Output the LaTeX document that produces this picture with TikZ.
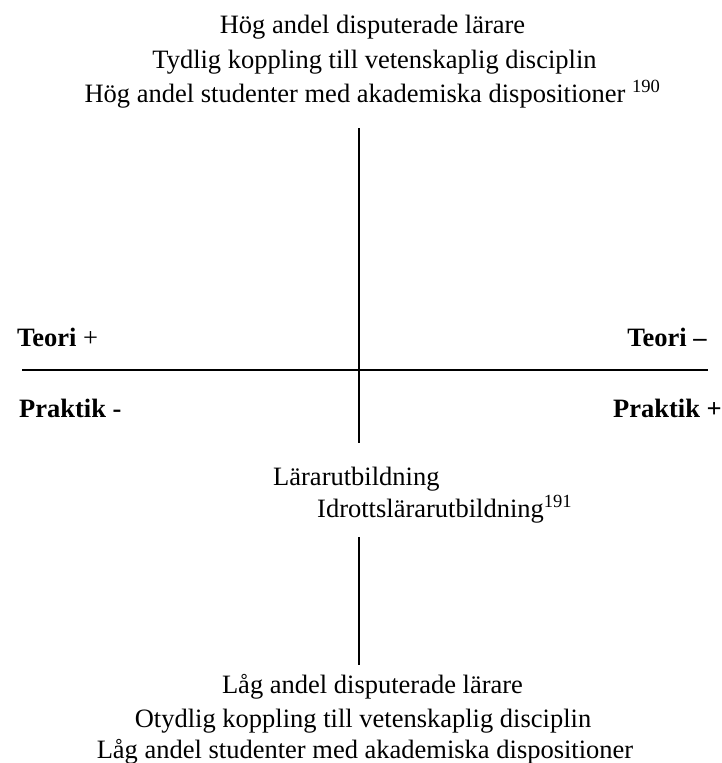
\documentclass[tikz,border=0pt]{standalone}
\usepackage{fontspec}
\setmainfont{Liberation Serif}
\begin{document}
\begin{tikzpicture}[x=1pt,y=-1pt,
  txt/.style={font=\fontsize{26.5}{30}\selectfont, inner sep=0pt, anchor=base},
  lbl/.style={font=\fontsize{26.5}{30}\selectfont, inner sep=0pt},
  axis/.style={line width=1.8pt}]
\useasboundingbox (0,0) rectangle (722,763);
% top texts
\node[txt] (t1) at (372.5,33) {Hög andel disputerade lärare};
\node[txt] (t2) at (374.5,68) {Tydlig koppling till vetenskaplig disciplin};
\node[txt] (t3) at (372.5,102) {Hög andel studenter med akademiska dispositioner \textsuperscript{190}};
% axes
\coordinate (vtop) at (359,128);
\coordinate (vmid) at (359,443);
\coordinate (hl) at (22,370);
\coordinate (hr) at (708,370);
\draw[axis] (vtop) -- (vmid);
\draw[axis] (hl) -- (hr);
% side labels
\node[lbl, anchor=base west] (tp) at (17,346) {\textbf{Teori} +};
\node[lbl, anchor=base east] (tm) at (707,346) {\textbf{Teori –}};
\node[lbl, anchor=base west] (pm) at (19,417) {\textbf{Praktik -}};
\node[lbl, anchor=base east] (pp) at (722,417) {\textbf{Praktik +}};
% middle texts
\node[lbl, anchor=base west] (la) at (273,485) {Lärarutbildning};
\node[lbl, anchor=base west] (il) at (317,517) {Idrottslärarutbildning\textsuperscript{191}};
% lower segment
\coordinate (vb1) at (359,537);
\coordinate (vb2) at (359,665);
\draw[axis] (vb1) -- (vb2);
% bottom texts
\node[txt] (b1) at (372.5,693) {Låg andel disputerade lärare};
\node[txt] (b2) at (363,727) {Otydlig koppling till vetenskaplig disciplin};
\node[txt] (b3) at (365,758) {Låg andel studenter med akademiska dispositioner};
\end{tikzpicture}
\end{document}
